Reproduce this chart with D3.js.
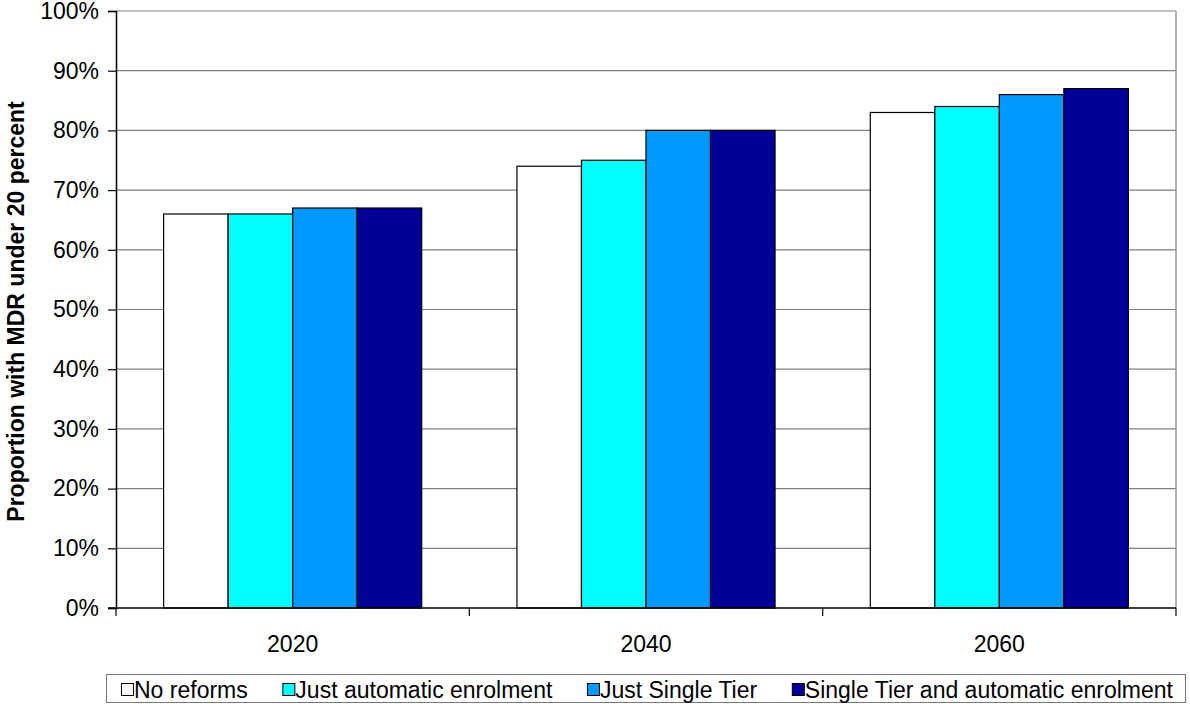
<!DOCTYPE html>
<html>
<head>
<meta charset="utf-8">
<script src="https://cdn.jsdelivr.net/npm/d3@7"></script>
<style>
  body { margin: 0; background: #fff; }
  svg { display: block; font-family: "Liberation Sans", Arial, sans-serif; }
</style>
</head>
<body>
<svg id="chart" width="1190" height="704"></svg>
<script>
// Years on the category axis
const years = ["2020", "2040", "2060"];
// Reform scenarios (one bar per scenario within each year)
const seriesNames = ["No reforms", "Just automatic enrolment", "Just Single Tier", "Single Tier and automatic enrolment"];
const seriesColors = ["#FFFFFF", "#00FFFF", "#0099FF", "#000099"];
// Proportion (%) with MDR under 20 percent
const noReforms = [66, 74, 83];
const justAuto = [66, 75, 84];
const justSingleTier = [67, 80, 86];
const singleTierAndAuto = [67, 80, 87];
const yTicks = [0, 10, 20, 30, 40, 50, 60, 70, 80, 90, 100];

const seriesValues = [noReforms, justAuto, justSingleTier, singleTierAndAuto];

const FONT = 23;
const svg = d3.select("#chart");
const plot = { left: 116, right: 1176, top: 11, bottom: 608 };

const x = d3.scaleBand().domain(years).range([plot.left, plot.right]).paddingInner(0).paddingOuter(0);
const xInner = d3.scaleBand().domain(d3.range(seriesNames.length))
  .range([0, x.bandwidth()]).paddingOuter(0.738).paddingInner(0);
const y = d3.scaleLinear().domain([0, 100]).range([plot.bottom, plot.top]);

// Gridlines
svg.append("g").selectAll("line").data(yTicks.filter(d => d > 0)).join("line")
  .attr("x1", plot.left).attr("x2", plot.right)
  .attr("y1", d => y(d)).attr("y2", d => y(d))
  .attr("stroke", "#808080").attr("stroke-width", 1.2);

// Right border of plot area
svg.append("line").attr("x1", plot.right).attr("x2", plot.right)
  .attr("y1", plot.top).attr("y2", plot.bottom)
  .attr("stroke", "#999").attr("stroke-width", 1.5);

// Bars
const groups = svg.append("g").selectAll("g").data(years).join("g")
  .attr("transform", d => `translate(${x(d)},0)`);
groups.selectAll("rect").data((yr, i) => seriesValues.map((s, k) => ({ k, v: s[i] }))).join("rect")
  .attr("x", d => xInner(d.k))
  .attr("width", xInner.bandwidth())
  .attr("y", d => y(d.v))
  .attr("height", d => y(0) - y(d.v))
  .attr("fill", d => seriesColors[d.k])
  .attr("stroke", "#000").attr("stroke-width", 1.2);

// Y axis
const yAxis = d3.axisLeft(y).tickValues(yTicks).tickFormat(d => d + "%").tickSize(8).tickPadding(9);
const gy = svg.append("g").attr("transform", `translate(${plot.left},0)`).call(yAxis);
gy.select(".domain").attr("stroke", "#000").attr("stroke-width", 1.5);
gy.selectAll(".tick line").attr("stroke", "#000").attr("stroke-width", 1.2);
gy.selectAll(".tick text").attr("font-size", FONT).attr("fill", "#000")
  .attr("font-family", "'Liberation Sans', Arial, sans-serif");

// X axis: ticks at category boundaries, labels at centres
const gx = svg.append("g").attr("transform", `translate(0,${plot.bottom})`);
gx.append("line").attr("x1", plot.left - 8).attr("x2", plot.right)
  .attr("y1", 0).attr("y2", 0).attr("stroke", "#000").attr("stroke-width", 1.5);
const boundaries = years.map(d => x(d)).concat([plot.right]);
gx.selectAll("line.tk").data(boundaries).join("line").attr("class", "tk")
  .attr("x1", d => d).attr("x2", d => d).attr("y1", 0).attr("y2", 8)
  .attr("stroke", "#000").attr("stroke-width", 1.2);
gx.selectAll("text").data(years).join("text")
  .attr("x", d => x(d) + x.bandwidth() / 2).attr("y", 44)
  .attr("text-anchor", "middle").attr("font-size", FONT).text(d => d);

// Y axis title
svg.append("text")
  .attr("transform", `translate(24,${(plot.top + plot.bottom) / 2 + 2}) rotate(-90)`)
  .attr("text-anchor", "middle").attr("font-size", 23).attr("font-weight", "bold")
  .text("Proportion with MDR under 20 percent");

// Legend: items laid out left to right, spaced evenly across the box
const legend = svg.append("g");
const box = { x: 106.5, y: 674.5, w: 1079, h: 28 };
legend.append("rect").attr("x", box.x).attr("y", box.y).attr("width", box.w).attr("height", box.h)
  .attr("fill", "#fff").attr("stroke", "#777").attr("stroke-width", 1);
const items = legend.selectAll("g").data(seriesNames).join("g");
items.append("rect").attr("x", 0.5).attr("y", 683.5).attr("width", 12).attr("height", 12)
  .attr("fill", (d, k) => seriesColors[k]).attr("stroke", "#000").attr("stroke-width", 1);
const labels = items.append("text").attr("x", 13).attr("y", 698).attr("font-size", FONT).text(d => d);
const widths = labels.nodes().map(n => n.getComputedTextLength() + 13);
const startX = 121, endX = 1173;
const gap = (endX - startX - d3.sum(widths)) / (widths.length - 1);
let cursor = startX;
items.attr("transform", (d, k) => {
  const t = `translate(${cursor},0)`;
  cursor += widths[k] + gap;
  return t;
});
</script>
</body>
</html>
